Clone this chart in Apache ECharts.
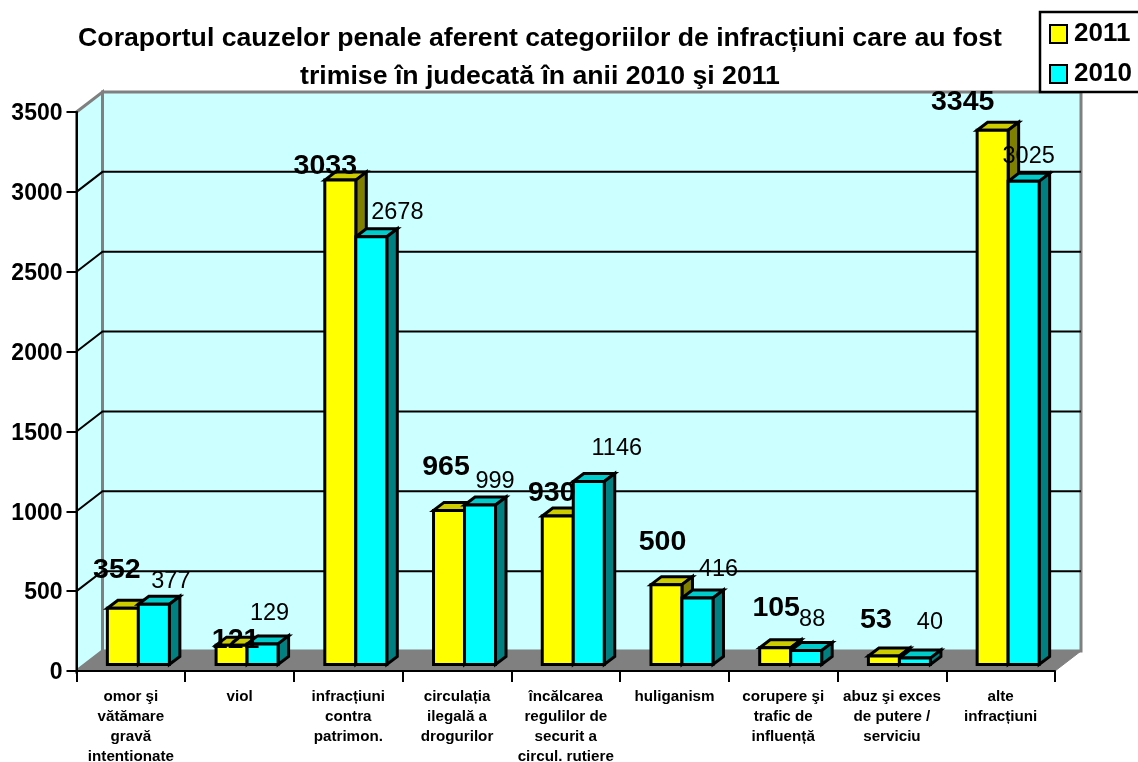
<!DOCTYPE html>
<html>
<head>
<meta charset="utf-8">
<style>html,body{margin:0;padding:0;background:#fff}#c{width:1138px;height:762px}</style>
<script src="https://cdn.jsdelivr.net/npm/echarts@6/dist/echarts.min.js"></script>
</head>
<body>
<div id="c"></div>
<script>
const categories = ["omor şi\nvătămare\ngravă\nintentionate","viol","infracțiuni\ncontra\npatrimon.","circulația\nilegală a\ndrogurilor","încălcarea\nregulilor de\nsecurit a\ncircul. rutiere","huliganism","corupere şi\ntrafic de\ninfluență","abuz şi exces\nde putere /\nserviciu","alte\ninfracțiuni"];
const values2011 = [352,121,3033,965,930,500,105,53,3345];
const values2010 = [377,129,2678,999,1146,416,88,40,3025];
const yTicks = [500,1000,1500,2000,2500,3000,3500];
// label nudges relative to the top of each bar (layout only)
const labelNudge2011 = [[-6,-38],[4,-5],[-15,-14],[-3,-43],[-6,-23],[-4,-43],[1,-40],[-8,-36],[-30,-28]];
const labelNudge2010 = [[17,-23],[7,-30],[26,-24],[15,-23],[28,-33],[21,-29],[6,-31],[15,-36],[5,-25]];

const FONT = '"Liberation Sans", Arial, sans-serif';
const WALL_DX = 26, WALL_DY = -20;
const BAR_SHIFT_X = 7.5, BAR_SHIFT_Y = -6.5, BAR_W = 31, BAR_DX = 10.5, BAR_DY = -8;

function poly(points, fill, stroke, lw, z2) {
  return {type:'polygon', shape:{points}, z2: z2||0,
    style:{fill, stroke: stroke||null, lineWidth: lw||0, lineJoin:'miter'}};
}

function renderWalls(params, api) {
  const g = params.coordSys, l=g.x, t=g.y, r=g.x+g.width, b=g.y+g.height;
  const d=[WALL_DX,WALL_DY];
  const kids = [];
  kids.push(poly([[l,t],[l+d[0],t+d[1]],[l+d[0],b+d[1]],[l,b]],'#ccffff','#808080',3,1));
  kids.push(poly([[l+d[0],t+d[1]],[r+d[0],t+d[1]],[r+d[0],b+d[1]],[l+d[0],b+d[1]]],'#ccffff','#808080',3,1));
  yTicks.slice(0,-1).forEach(v=>{
    const y = api.coord([0,v])[1];
    kids.push({type:'polyline',z2:2,shape:{points:[[l,y],[l+d[0],y+d[1]],[r+d[0],y+d[1]]]},
      style:{stroke:'#000',lineWidth:2,fill:null}});
  });
  kids.push(poly([[l,b],[l+d[0],b+d[1]],[r+d[0],b+d[1]],[r,b]],'#808080','#808080',1,3));
  return {type:'group',children:kids};
}

function makeRender(side, front, top, dark, nudges, font) {
  return function(params, api){
    const i = api.value(0), v = api.value(1);
    const p = api.coord([i,v]), b = api.coord([i,0]);
    const cx = p[0] + BAR_SHIFT_X + side*BAR_W/2;
    const x0 = cx - BAR_W/2, x1 = cx + BAR_W/2;
    const yB = b[1] + BAR_SHIFT_Y, yT = p[1] + BAR_SHIFT_Y;
    const S = {stroke:'#000',lw:3};
    return {type:'group',children:[
      poly([[x0,yT],[x0+BAR_DX,yT+BAR_DY],[x1+BAR_DX,yT+BAR_DY],[x1,yT]],top,S.stroke,S.lw,5),
      poly([[x1,yT],[x1+BAR_DX,yT+BAR_DY],[x1+BAR_DX,yB+BAR_DY],[x1,yB]],dark,S.stroke,S.lw,5),
      poly([[x0,yT],[x1,yT],[x1,yB],[x0,yB]],front,S.stroke,S.lw,6),
      {type:'text',z2:100,x:cx+nudges[i][0],y:yT+nudges[i][1],
        style:{text:String(v),font,fill:'#000',align:'center',verticalAlign:'middle'}}
    ]};
  };
}

const chart = echarts.init(document.getElementById('c'),null,{renderer:'canvas'});
chart.setOption({
  animation:false,
  backgroundColor:'#fff',
  title:{
    text:'Coraportul cauzelor penale aferent categoriilor de infracțiuni care au fost\ntrimise în judecată în anii 2010 şi 2011',
    left:535, top:15, textAlign:'center',
    textStyle:{fontFamily:FONT,fontWeight:'bold',fontSize:26.65,lineHeight:38,color:'#000'}
  },
  legend:{
    orient:'vertical', left:1040, top:12, z:20,
    backgroundColor:'#fff', borderColor:'#000', borderWidth:2.5, borderRadius:0,
    padding:[9,20,5,9], itemWidth:17, itemHeight:18, itemGap:14,
    textStyle:{fontFamily:FONT,fontWeight:'bold',fontSize:26,color:'#000',padding:[0,0,0,2]},
    selectedMode:false,
    data:[
      {name:'2011',icon:'rect',itemStyle:{color:'#ffff00',borderColor:'#000',borderWidth:2}},
      {name:'2010',icon:'rect',itemStyle:{color:'#00ffff',borderColor:'#000',borderWidth:2}}
    ]
  },
  grid:{left:76.5,top:112,width:978.5,height:559,containLabel:false,outerBoundsMode:'none'},
  xAxis:{
    type:'category',data:categories,z:5,
    axisLine:{show:true,lineStyle:{color:'#000',width:2}},
    axisTick:{show:true,length:11,lineStyle:{color:'#000',width:2},alignWithLabel:false},
    axisLabel:{interval:0,margin:16,color:'#000',fontFamily:FONT,fontWeight:'bold',fontSize:15.2,lineHeight:20,align:'center',verticalAlign:'top'},
    splitLine:{show:false}
  },
  yAxis:{
    type:'value',min:0,max:3500,interval:500,z:5,
    axisLine:{show:true,lineStyle:{color:'#000',width:2}},
    axisTick:{show:true,length:10,lineStyle:{color:'#000',width:2}},
    axisLabel:{margin:14,color:'#000',formatter:v=>'{a|'+v+'}',
      rich:{a:{fontFamily:FONT,fontWeight:'bold',fontSize:23,color:'#000',padding:[4,0,0,0]}}},
    splitLine:{show:false}
  },
  series:[
    {type:'custom',name:'walls',z:1,silent:true,data:[[0,0]],renderItem:renderWalls,encode:{x:0,y:1},legendHoverLink:false},
    {type:'custom',name:'2011',z:6,data:values2011.map((v,i)=>[i,v]),encode:{x:0,y:1},
      itemStyle:{color:'#ffff00'},
      renderItem:makeRender(-1,'#ffff00','#cccc00','#808000',labelNudge2011,'bold 28.5px '+FONT)},
    {type:'custom',name:'2010',z:6,data:values2010.map((v,i)=>[i,v]),encode:{x:0,y:1},
      itemStyle:{color:'#00ffff'},
      renderItem:makeRender(1,'#00ffff','#00cccc','#008080',labelNudge2010,'23.5px '+FONT)}
  ]
});
</script>
</body>
</html>
